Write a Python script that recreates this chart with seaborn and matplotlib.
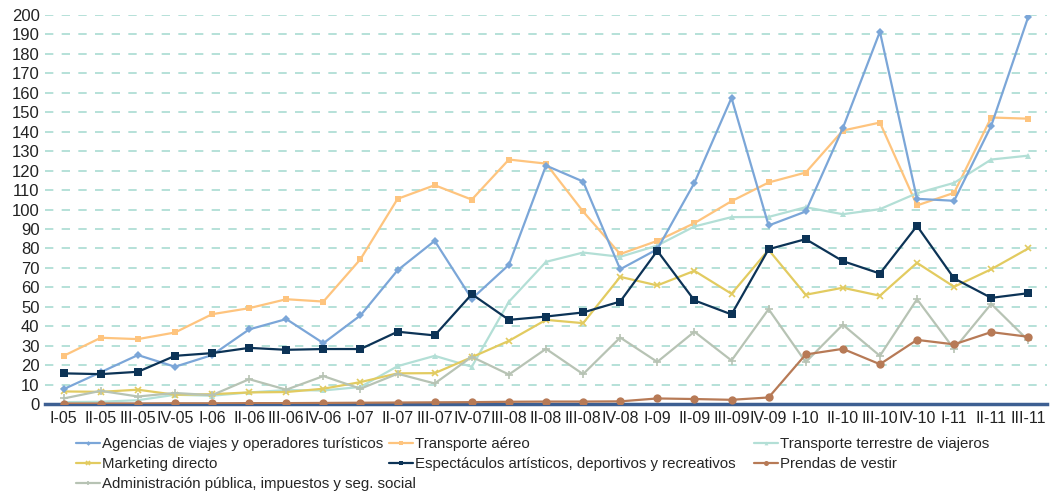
import matplotlib
matplotlib.use("Agg")
import matplotlib.pyplot as plt
import seaborn as sns
import pandas as pd
import numpy as np

quarters = ["I-05", "II-05", "III-05", "IV-05", "I-06", "II-06", "III-06", "IV-06",
            "I-07", "II-07", "III-07", "IV-07", "III-08", "II-08", "III-08", "IV-08",
            "I-09", "II-09", "III-09", "IV-09", "I-10", "II-10", "III-10", "IV-10",
            "I-11", "II-11", "III-11"]

agencias = [7.7, 16.4, 25.2, 19.2, 25.2, 38.4, 43.7, 31.3, 45.6, 68.8, 83.9, 54.1, 71.6,
            122.6, 114.4, 69.3, 79.6, 113.7, 157.4, 91.8, 99.0, 141.8, 191.4, 105.5,
            104.5, 143.0, 199.1]
aereo = [24.8, 34.1, 33.4, 36.8, 46.2, 49.3, 53.9, 52.7, 74.5, 105.5, 112.5, 105.1, 125.7,
         123.6, 99.0, 77.1, 83.9, 93.0, 104.3, 113.9, 119.0, 140.6, 144.7, 102.1,
         108.6, 147.3, 146.7]
terrestre = [1.0, 1.2, 2.0, 4.8, 4.3, 6.0, 7.2, 7.0, 8.8, 19.5, 24.8, 19.2, 52.6, 73.1,
             77.9, 75.7, 81.5, 91.3, 96.1, 96.2, 101.2, 97.6, 100.2, 108.4, 113.7,
             125.7, 127.7]
marketing = [6.5, 6.3, 7.4, 4.8, 5.1, 6.0, 6.2, 7.9, 11.3, 15.8, 15.9, 24.1, 32.5, 43.3,
             41.6, 65.4, 61.0, 68.5, 56.7, 79.3, 56.2, 59.8, 55.7, 72.6, 60.3, 69.3, 80.0]
espectaculos = [15.8, 15.4, 16.6, 24.8, 26.2, 28.9, 27.9, 28.3, 28.3, 37.2, 35.3, 56.5,
                43.3, 45.0, 47.1, 52.7, 78.8, 53.3, 46.1, 79.6, 84.8, 73.5, 67.1, 91.6,
                64.6, 54.6, 57.0]
prendas = [0.3, 0.3, 0.3, 0.4, 0.4, 0.5, 0.5, 0.6, 0.7, 0.8, 0.9, 1.0, 1.2, 1.3, 1.3, 1.4,
           2.9, 2.6, 2.2, 3.4, 25.5, 28.4, 20.5, 33.0, 30.7, 37.0, 34.6]
administracion = [2.9, 6.8, 3.9, 5.7, 4.6, 12.8, 7.4, 14.4, 7.9, 15.6, 10.6, 24.3, 15.2,
                  28.4, 15.4, 34.2, 21.7, 37.2, 22.4, 48.8, 21.6, 40.8, 24.8, 53.9, 28.3,
                  51.5, 32.7]

series = [
    ("Agencias de viajes y operadores turísticos", agencias, "#7ba6d8", "D", 4),
    ("Transporte aéreo", aereo, "#fec47e", "s", 5),
    ("Transporte terrestre de viajeros", terrestre, "#b3dfd6", "^", 4.5),
    ("Marketing directo", marketing, "#e2cb60", "x", 5),
    ("Espectáculos artísticos, deportivos y recreativos", espectaculos, "#0c3356", "s", 5.5),
    ("Prendas de vestir", prendas, "#b77a56", "o", 6),
    ("Administración pública, impuestos y seg. social", administracion, "#b7c3b4", "+", 6),
]

sns.set_style("white")
plt.rcParams['font.family'] = ['Liberation Sans', 'DejaVu Sans']

fig = plt.figure(figsize=(10.5, 4.91), dpi=100)
ax = fig.add_axes([0.043, 0.177, 0.954, 0.7925])

x = np.arange(len(quarters))
zorders = [3, 2, 2, 2, 4, 5, 2]
for (name, vals, col, mk, ms), z in zip(series, zorders):
    sns.lineplot(x=x, y=vals, ax=ax, color=col, marker=mk, markersize=ms,
                 markeredgecolor=col, markeredgewidth=1.2 if mk in "x+" else 0,
                 linewidth=1.6, label=name, zorder=z)

ax.set_xlim(-0.5, len(quarters) - 0.5)
ax.set_ylim(0, 200)
ax.set_yticks(range(0, 201, 10))
ax.set_xticks(x)
ax.set_xticklabels(quarters)
ax.set_xticks(np.arange(-0.5, len(quarters), 1), minor=True)
ax.tick_params(axis='x', which='major', length=0, pad=5, labelsize=11.5, colors="#222222")
ax.tick_params(axis='x', which='minor', length=4, width=1.5, color="#3d5f92", direction='out')
ax.tick_params(axis='y', length=0, labelsize=12, pad=4, colors="#222222")

ax.yaxis.grid(True, linestyle=(0, (5, 5)), color="#a9dbd2", linewidth=1.2)
ax.set_axisbelow(True)
for s in ["top", "right", "left"]:
    ax.spines[s].set_visible(False)
ax.spines["bottom"].set_color("#3d5f92")
ax.spines["bottom"].set_linewidth(2.5)
ax.spines["bottom"].set_zorder(1)

handles, labels = ax.get_legend_handles_labels()
ax.get_legend().remove()
columns = [([0, 3, 6], 0.072), ([1, 4], 0.370), ([2, 5], 0.718)]
for idx, xpos in columns:
    fig.legend([handles[i] for i in idx], [labels[i] for i in idx],
               loc="upper left", bbox_to_anchor=(xpos, 0.110), frameon=False,
               fontsize=10.8, handlelength=1.6, handletextpad=0.15, borderpad=0,
               borderaxespad=0, labelspacing=0.4, markerscale=0.6)

fig.savefig("out.png", dpi=100)
